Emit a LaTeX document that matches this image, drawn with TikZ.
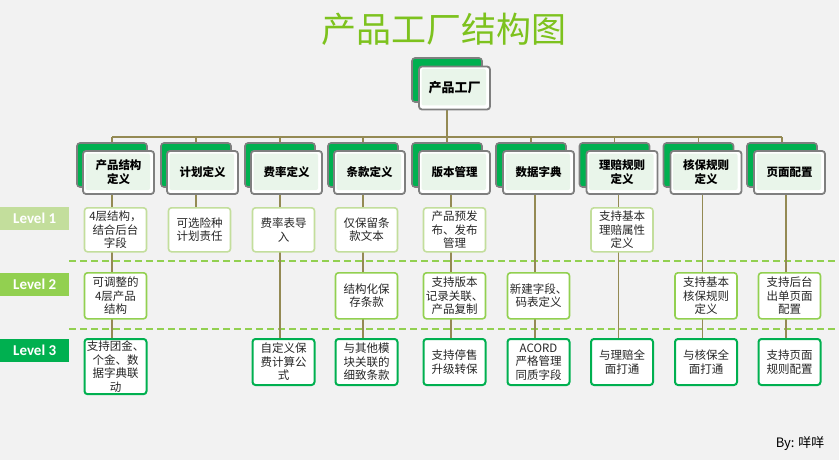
\documentclass[tikz,border=0pt]{standalone}
\usepackage{fontspec}
\setmainfont{Noto Sans CJK SC}
\newfontfamily\tagfont{Carlito}
\usetikzlibrary{backgrounds}

\definecolor{bggray}{HTML}{F2F2F2}
\definecolor{titlegreen}{HTML}{7DC21E}
\definecolor{catgreen}{HTML}{00B050}
\definecolor{boxgray}{HTML}{7F7F7F}
\definecolor{mint}{HTML}{E9F5EA}
\definecolor{olive}{HTML}{948A54}
\definecolor{paleone}{HTML}{C3DE9C}
\definecolor{midtwo}{HTML}{92D050}
\definecolor{deepthree}{HTML}{00B050}

\tikzset{
  headline/.style={text=titlegreen, font=\fontsize{35}{35}\selectfont},
  catback/.style={draw=boxgray, fill=catgreen, line width=1.6pt, rounded corners=3pt,
    minimum width=70pt, minimum height=44pt},
  catfront/.style={draw=boxgray, fill=white, line width=1.8pt, rounded corners=3pt,
    minimum width=71pt, minimum height=43pt, align=center, inner sep=1pt,
    font=\bfseries\fontsize{11.5}{14}\selectfont,
    path picture={\fill[mint, rounded corners=2pt]
      ([shift={(2.5pt,4pt)}]path picture bounding box.south west) rectangle
      ([shift={(-4pt,-2.5pt)}]path picture bounding box.north east);}},
  levelbox/.style={fill=white, rounded corners=3pt, line width=1.6pt, anchor=north,
    minimum width=62pt, minimum height=44pt, align=center, inner sep=2pt,
    text=black!85, font=\fontsize{11.5}{13.5}\selectfont},
  oneb/.style={levelbox, draw=paleone},
  twob/.style={levelbox, draw=midtwo, minimum height=46pt},
  threeb/.style={levelbox, draw=deepthree, line width=2pt, minimum height=46pt},
  levtag/.style={anchor=north west, minimum width=69pt, minimum height=23pt, inner sep=0pt,
    text=white, font=\tagfont\bfseries\fontsize{15}{15}\selectfont},
  trunk/.style={draw=olive, line width=1.6pt},
  levelsep/.style={draw=midtwo, line width=1.5pt, dash pattern=on 7pt off 4pt}
}

\begin{document}
\begin{tikzpicture}[x=1pt,y=-1pt]
\useasboundingbox (0,0) rectangle (839,460);
\begin{pgfonlayer}{background}
\fill[bggray] (0,0) rectangle (839,460);
\end{pgfonlayer}

\node[headline] (title) at (444,29) {产品工厂结构图};

\node[catback] (rootb) at (447,80) {};
\node[catfront, font=\bfseries\fontsize{13}{14}\selectfont] (root) at (454.5,88) {产品工厂};

% second row
\node[catback] (c1b) at (112,165) {};
\node[catfront] (c1) at (118.5,172.5) {产品结构\\定义};
\node[catback] (c2b) at (196,165) {};
\node[catfront] (c2) at (202.5,172.5) {计划定义};
\node[catback] (c3b) at (280,165) {};
\node[catfront] (c3) at (286.5,172.5) {费率定义};
\node[catback] (c4b) at (363,165) {};
\node[catfront] (c4) at (369.5,172.5) {条款定义};
\node[catback] (c5b) at (447,165) {};
\node[catfront] (c5) at (454.5,172.5) {版本管理};
\node[catback] (c6b) at (531,165) {};
\node[catfront] (c6) at (538.5,172.5) {数据字典};
\node[catback] (c7b) at (614.5,165) {};
\node[catfront] (c7) at (622,172.5) {理赔规则\\定义};
\node[catback] (c8b) at (698.5,165) {};
\node[catfront] (c8) at (706,172.5) {核保规则\\定义};
\node[catback] (c9b) at (782,165) {};
\node[catfront] (c9) at (789.5,172.5) {页面配置};

% level tags
\node[levtag, fill=paleone] (lv1) at (0,207) {Level 1};
\node[levtag, fill=midtwo] (lv2) at (0,273) {Level 2};
\node[levtag, fill=deepthree] (lv3) at (0,339) {Level 3};

% level 1
\node[oneb] (c1a) at (115.5,207) {4层结构，\\结合后台\\字段};
\node[oneb] (c2a) at (199.5,207) {可选险种\\计划责任};
\node[oneb] (c3a) at (283.5,207) {费率表导\\入};
\node[oneb] (c4a) at (366.5,207) {仅保留条\\款文本};
\node[oneb] (c5a) at (454.5,207) {产品预发\\布、发布\\管理};
\node[oneb] (c7a) at (622,207) {支持基本\\理赔属性\\定义};

% level 2
\node[twob] (c1m) at (115.5,272) {可调整的\\4层产品\\结构};
\node[twob] (c4m) at (366.5,272) {结构化保\\存条款};
\node[twob] (c5m) at (454.5,272) {支持版本\\记录关联、\\产品复制};
\node[twob] (c6m) at (538.5,272) {新建字段、\\码表定义};
\node[twob] (c8m) at (706,272) {支持基本\\核保规则\\定义};
\node[twob] (c9m) at (789.5,272) {支持后台\\出单页面\\配置};

% level 3
\node[threeb] (c1z) at (115.5,338) {支持团金、\\个金、数\\据字典联\\动};
\node[threeb] (c3z) at (283.5,338) {自定义保\\费计算公\\式};
\node[threeb] (c4z) at (366.5,338) {与其他模\\块关联的\\细致条款};
\node[threeb] (c5z) at (454.5,338) {支持停售\\升级转保};
\node[threeb] (c6z) at (538.5,338) {ACORD\\严格管理\\同质字段};
\node[threeb] (c7z) at (622,338) {与理赔全\\面打通};
\node[threeb] (c8z) at (706,338) {与核保全\\面打通};
\node[threeb] (c9z) at (789.5,338) {支持页面\\规则配置};

\node[anchor=east, text=black, font=\fontsize{13}{13}\selectfont] (sign) at (828,444) {By: 咩咩};

\coordinate (hub) at (447,137);
\coordinate (bus1) at (112,137);
\coordinate (bus9) at (782,137);

\begin{pgfonlayer}{background}
\draw[levelsep] (69,261) -- (839,261);
\draw[levelsep] (69,329) -- (839,329);

\draw[trunk] (rootb.center |- root.south) -- (hub);
\draw[trunk] (bus1) -- (bus9);
\foreach \c in {1,...,9}
  \draw[trunk] (c\c b.north |- hub) -- (c\c b.north);

\draw[trunk] ([xshift=-3.5pt]c1z.north) -- ([xshift=-3.5pt]c1z.north |- c1.south);
\draw[trunk] ([xshift=-3.5pt]c2a.north) -- ([xshift=-3.5pt]c2a.north |- c2.south);
\draw[trunk] ([xshift=-3.5pt]c3z.north) -- ([xshift=-3.5pt]c3z.north |- c3.south);
\draw[trunk] ([xshift=-3.5pt]c4z.north) -- ([xshift=-3.5pt]c4z.north |- c4.south);
\draw[trunk] ([xshift=-3.5pt]c5z.north) -- ([xshift=-3.5pt]c5z.north |- c5.south);
\draw[trunk] ([xshift=-3.5pt]c6z.north) -- ([xshift=-3.5pt]c6z.north |- c6.south);
\draw[trunk] ([xshift=-3.5pt]c7z.north) -- ([xshift=-3.5pt]c7z.north |- c7.south);
\draw[trunk] ([xshift=-3.5pt]c8z.north) -- ([xshift=-3.5pt]c8z.north |- c8.south);
\draw[trunk] ([xshift=-3.5pt]c9z.north) -- ([xshift=-3.5pt]c9z.north |- c9.south);
\end{pgfonlayer}

\end{tikzpicture}
\end{document}
